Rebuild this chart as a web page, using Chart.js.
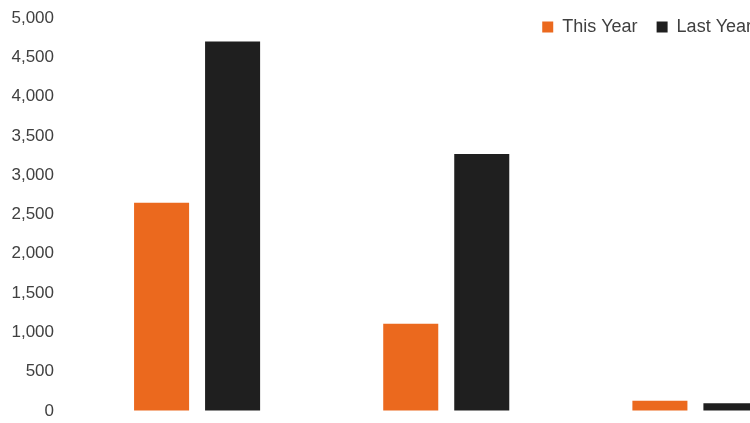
<!DOCTYPE html>
<html>
<head>
<meta charset="utf-8">
<script src="https://cdn.jsdelivr.net/npm/chart.js@4/dist/chart.umd.min.js"></script>
<style>
  html, body { margin: 0; padding: 0; background: #fff; overflow: hidden; }
  /* plot runs past the right edge of the window, like the original */
  .chart-box { width: 820px; height: 424px; position: relative; }
</style>
</head>
<body>
<div class="chart-box"><canvas id="bar_chart"></canvas></div>
<script>
// chart data
const categories = ['Category 1', 'Category 2', 'Category 3'];
const this_year = [2650, 1110, 130];
const last_year = [4700, 3270, 100];
const y_ticks = { min: 0, max: 5000, step: 500 };

const ctx = document.getElementById('bar_chart').getContext('2d');

// legend is drawn over the top of the plot, it takes no room in the layout
const legendPlacer = {
    id: 'legendPlacer',
    afterLayout(chart) {
        const lg = chart.legend;
        if (!lg) return;
        lg.left = 0;
        lg.right = 771;
        lg.top = -1;
        lg.bottom = 60;
        lg.width = lg.right - lg.left;
        lg.height = lg.bottom - lg.top;
    }
};

Chart.defaults.font.family = '"Liberation Sans", Arial, sans-serif';
Chart.defaults.color = '#404040';

const my_chart = new Chart(ctx, {
    type: 'bar',
    data: {
        labels: categories,
        datasets: [{
            label: 'This Year',
            data: this_year,
            backgroundColor: '#EB691E',
            borderWidth: 0,
            categoryPercentage: 0.57,
            barPercentage: 0.775
        }, {
            label: 'Last Year',
            data: last_year,
            backgroundColor: '#1F1F1F',
            borderWidth: 0,
            categoryPercentage: 0.57,
            barPercentage: 0.775
        }]
    },
    options: {
        responsive: true,
        maintainAspectRatio: false,
        animation: false,
        layout: {
            padding: { left: 10, right: 0, top: 17, bottom: 13 }
        },
        plugins: {
            legend: {
                position: 'top',
                align: 'end',
                maxHeight: 1,
                labels: {
                    boxWidth: 11,
                    boxHeight: 11,
                    padding: 19,
                    color: '#404040',
                    font: { size: 18 }
                }
            },
            tooltip: { enabled: false }
        },
        scales: {
            x: {
                display: false,
                grid: { display: false }
            },
            y: {
                min: y_ticks.min,
                max: y_ticks.max,
                afterFit: (scale) => { scale.width = 62.5; },
                // invisible tick marks give the gap between labels and plot
                grid: {
                    display: true,
                    drawOnChartArea: false,
                    drawTicks: true,
                    tickLength: 18.5,
                    color: 'rgba(0,0,0,0)'
                },
                border: { display: false },
                ticks: {
                    stepSize: y_ticks.step,
                    padding: 0,
                    color: '#404040',
                    font: { size: 17 },
                    callback: (v) => v.toLocaleString('en-US')
                }
            }
        }
    },
    plugins: [legendPlacer]
});
</script>
</body>
</html>
